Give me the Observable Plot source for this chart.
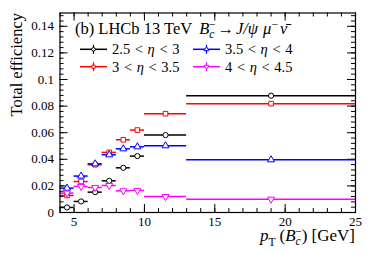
<!DOCTYPE html>
<html><head><meta charset="utf-8">
<script src="https://cdn.jsdelivr.net/npm/d3@7"></script>
<script src="https://cdn.jsdelivr.net/npm/@observablehq/plot@0.6"></script>
<style>body{margin:0;background:#fff} svg{display:block}</style>
</head><body><div id="chart"></div>
<script>
// pT bins [GeV]
const binLo = [4, 5, 6, 7, 8, 9, 10, 13];
const binHi = [5, 6, 7, 8, 9, 10, 13, 25];
const binCenter = [4.5, 5.5, 6.5, 7.5, 8.5, 9.5, 11.5, 19];
// series names (eta ranges)
const seriesNames = ["2.5 < η < 3", "3 < η < 3.5", "3.5 < η < 4", "4 < η < 4.5"];
const seriesColors = ["#000000", "#ff0000", "#0000ff", "#ff00ff"];
// efficiencies
const eff_25_3  = [0.0038, 0.0083, 0.0153, 0.0238, 0.0336, 0.0424, 0.0582, 0.0878];
const eff_3_35  = [0.0128, 0.0233, 0.0359, 0.0452, 0.0547, 0.0620, 0.0743, 0.0818];
const eff_35_4  = [0.0183, 0.0274, 0.0366, 0.0434, 0.0479, 0.0494, 0.0502, 0.0396];
const eff_4_45  = [0.0146, 0.0196, 0.0188, 0.0203, 0.0163, 0.0166, 0.0120, 0.0100];
// tick labels
const xTicks = [5, 10, 15, 20, 25];
const xTickLabels = ["5", "10", "15", "20", "25"];
const yTicks = [0, 0.02, 0.04, 0.06, 0.08, 0.1, 0.12, 0.14];
const yTickLabels = ["0", "0.02", "0.04", "0.06", "0.08", "0.1", "0.12", "0.14"];

const allSeries = [eff_25_3, eff_3_35, eff_35_4, eff_4_45];
const rows = [];
allSeries.forEach((vals, s) => vals.forEach((v, i) => rows.push({
  series: seriesNames[s], x: binCenter[i], lo: binLo[i], hi: binHi[i], y: v, down: s === 3
})));

const FONT = "'Liberation Serif', 'DejaVu Serif', serif";
const W = 374, H = 253, mL = 59.5, mR = 19, mT = 12.5, mB = 41;
const pw = W - mL - mR, ph = H - mT - mB;
const xMinor = d3.range(4, 25.001, 1);
const yMinor = d3.range(0, 0.1501, 0.004);
const majLen = 8, minLen = 4;

const plot = Plot.plot({
  width: W, height: H,
  marginLeft: mL, marginRight: mR, marginTop: mT, marginBottom: mB,
  style: {fontFamily: FONT, background: "#fff", color: "#000"},
  x: {domain: [4, 25]},
  y: {domain: [0, 0.15]},
  color: {domain: seriesNames, range: seriesColors},
  symbol: {domain: seriesNames, range: ["circle", "square", "triangle", "triangle"]},
  marks: [
    Plot.axisX(xTicks, {tickSize: 0, tickPadding: 4.5, fontSize: 13, fontFamily: FONT, label: null,
      tickFormat: (d, i) => xTickLabels[i]}),
    Plot.axisY(yTicks, {tickSize: 0, tickPadding: 6, fontSize: 13, fontFamily: FONT, label: null,
      tickFormat: (d, i) => yTickLabels[i]}),
    // ticks inside frame: bottom & top
    Plot.tickX(xTicks, {x: d => d, insetTop: ph - majLen, stroke: "#000"}),
    Plot.tickX(xMinor, {x: d => d, insetTop: ph - minLen, stroke: "#000"}),
    Plot.tickX(xTicks, {x: d => d, insetBottom: ph - majLen, stroke: "#000"}),
    Plot.tickX(xMinor, {x: d => d, insetBottom: ph - minLen, stroke: "#000"}),
    // left & right
    Plot.tickY(yTicks, {y: d => d, insetRight: pw - majLen, stroke: "#000"}),
    Plot.tickY(yMinor, {y: d => d, insetRight: pw - minLen, stroke: "#000"}),
    Plot.tickY(yTicks, {y: d => d, insetLeft: pw - majLen, stroke: "#000"}),
    Plot.tickY(yMinor, {y: d => d, insetLeft: pw - minLen, stroke: "#000"}),
    // horizontal bin-width bars
    Plot.ruleY(rows, {y: "y", x1: "lo", x2: "hi", stroke: "series", strokeWidth: 1.5}),
    // markers
    Plot.dot(rows, {x: "x", y: "y", symbol: "series", stroke: "series", fill: "#fff",
      r: 2.6, strokeWidth: 1, rotate: d => d.down ? 180 : 0}),
    Plot.frame({stroke: "#000", strokeWidth: 1.2})
  ]
});

document.getElementById("chart").appendChild(plot);
const svg = d3.select(plot);
function txt(sel) {
  return sel.append("text").style("font-family", FONT).attr("fill", "#000");
}

// y title
txt(svg).attr("transform", "translate(21.5,13) rotate(-90)")
  .attr("text-anchor", "end").attr("font-size", 16.5)
  .text("Total efficiency");

// x title
const xt = txt(svg).attr("x", 355).attr("y", 241).attr("text-anchor", "end").attr("font-size", 17);
xt.append("tspan").attr("font-style", "italic").text("p");
xt.append("tspan").attr("font-size", 11.5).attr("dy", 5).text("T");
xt.append("tspan").attr("dy", -5).attr("dx", 4).text("(");
xt.append("tspan").attr("font-style", "italic").text("B");
xt.append("tspan").attr("font-style", "italic").attr("font-size", 11.5).attr("dy", 4).text("c");
xt.append("tspan").attr("font-size", 11.5).attr("dx", -5.5).attr("dy", -10).text("−");
xt.append("tspan").attr("dy", 6).text(") [GeV]");

// legend header
const tt = txt(svg).attr("x", 75).attr("y", 34).attr("text-anchor", "start").attr("font-size", 16.5);
tt.append("tspan").text("(b) LHCb 13 TeV");
tt.append("tspan").attr("font-style", "italic").attr("dx", 7).text("B");
tt.append("tspan").attr("font-style", "italic").attr("font-size", 11.5).attr("dy", 4).text("c");
tt.append("tspan").attr("font-size", 11.5).attr("dx", -5.5).attr("dy", -10).text("−");
tt.append("tspan").attr("dy", 6).attr("dx", 2).text("→");
tt.append("tspan").attr("font-style", "italic").attr("dx", 2).text("J/ψ");
tt.append("tspan").attr("font-style", "italic").attr("dx", 5).text("μ");
tt.append("tspan").attr("font-size", 11.5).attr("dy", -6).text("−");
tt.append("tspan").attr("font-style", "italic").attr("dy", 6).attr("dx", 2).text("ν̄");

// legend entries
const legPos = [[80, 49.3], [80, 66.7], [193, 49.3], [193, 66.7]];
const legSym = [d3.symbolCircle, d3.symbolSquare, d3.symbolTriangle, d3.symbolTriangle];
seriesNames.forEach((name, i) => {
  const [lx, ly] = legPos[i];
  const c = seriesColors[i];
  const g = svg.append("g");
  g.append("line").attr("x1", lx).attr("x2", lx + 27).attr("y1", ly).attr("y2", ly)
    .attr("stroke", c).attr("stroke-width", 1.5);
  g.append("line").attr("x1", lx + 13.5).attr("x2", lx + 13.5).attr("y1", ly - 4.5).attr("y2", ly + 4.5)
    .attr("stroke", c).attr("stroke-width", 1.2);
  g.append("path").attr("d", d3.symbol(legSym[i], 10)())
    .attr("transform", `translate(${lx + 13.5},${ly}) rotate(${i === 3 ? 180 : 0})`)
    .attr("fill", "#fff").attr("stroke", c).attr("stroke-width", 1);
  const parts = name.split("η");
  const t = txt(g).attr("x", lx + 32).attr("y", ly + 5).attr("text-anchor", "start")
    .attr("font-size", 14.5).attr("word-spacing", 1).style("white-space", "pre");
  t.append("tspan").text(parts[0]);
  t.append("tspan").attr("font-style", "italic").text("η");
  t.append("tspan").text(parts[1]);
});
</script>
</body></html>
